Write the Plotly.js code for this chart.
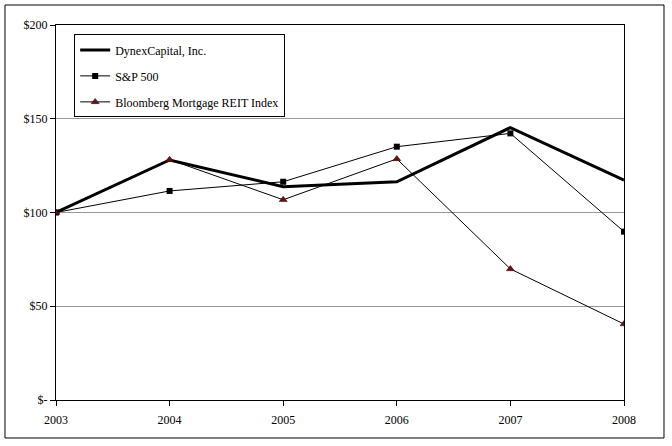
<!DOCTYPE html>
<html>
<head>
<meta charset="utf-8">
<script src="https://cdn.plot.ly/plotly-3.0.1.min.js"></script>
<style>
html,body{margin:0;padding:0;background:#fff;}
#chart{width:672px;height:446px;}
</style>
</head>
<body>
<div id="chart"></div>
<script>
var years = [2003, 2004, 2005, 2006, 2007, 2008];
var dynex = [100, 128, 113.8, 116.4, 145.3, 117.3];
var sp500 = [100, 111.5, 116.4, 135.1, 142.2, 89.8];
var reit  = [100, 128.2, 106.8, 128.6, 69.9, 40.5];
var yTickVals = [0, 50, 100, 150, 200];
var yTickText = ['$-', '$50', '$100', '$150', '$200'];
var seriesNames = ['DynexCapital, Inc.', 'S&P 500', 'Bloomberg Mortgage REIT Index'];

var fam = '"Liberation Serif", "Times New Roman", serif';
var font = {family: fam, size: 12, color: '#000'};

var traces = [
  {x: years, y: dynex, name: seriesNames[0], type: 'scatter', mode: 'lines',
   line: {color: '#000', width: 3}, legendgroup: 'a'},
  {x: years, y: sp500, name: seriesNames[1], type: 'scatter', mode: 'lines+markers',
   line: {color: '#000', width: 1}, marker: {symbol: 'square', size: 6, color: '#000'}, legendgroup: 'b'},
  {x: years, y: reit, name: seriesNames[2], type: 'scatter', mode: 'lines+markers',
   line: {color: '#000', width: 1}, marker: {symbol: 'triangle-up', size: 7, color: '#6b0f0f', line: {color: '#3a0000', width: 0.5}}, legendgroup: 'c'}
];

var layout = {
  width: 672, height: 446,
  margin: {l: 56, r: 48, t: 25, b: 46},
  paper_bgcolor: '#fff', plot_bgcolor: '#fff',
  font: font,
  showlegend: true,
  legend: {
    x: 0.032, y: 0.975, xanchor: 'left', yanchor: 'top',
    bgcolor: '#fff', bordercolor: '#000', borderwidth: 1,
    font: {family: fam, size: 12, color: '#000'},
    traceorder: 'grouped', tracegroupgap: 7, itemwidth: 30
  },
  xaxis: {
    type: 'linear', range: [2003, 2008],
    tickvals: years, ticktext: years.map(String),
    ticks: 'outside', ticklen: 5, tickcolor: '#000', ticklabelstandoff: 4,
    showline: true, linecolor: '#000', linewidth: 1, mirror: true,
    showgrid: false, zeroline: false,
    tickfont: {family: fam, size: 12, color: '#000'}
  },
  yaxis: {
    range: [0, 200],
    tickvals: yTickVals, ticktext: yTickText,
    ticks: 'outside', ticklen: 5, tickcolor: '#000',
    showline: true, linecolor: '#000', linewidth: 1, mirror: true,
    showgrid: true, gridcolor: '#999', gridwidth: 1, zeroline: false,
    tickfont: {family: fam, size: 12, color: '#000'}
  },
  shapes: [
    {type: 'rect', xref: 'paper', yref: 'paper',
     x0: -0.0898, x1: 1.0704, y0: -0.1013, y1: 1.0533,
     line: {color: '#000', width: 1}, fillcolor: 'rgba(0,0,0,0)', layer: 'below'}
  ]
};

Plotly.newPlot('chart', traces, layout, {displayModeBar: false, staticPlot: true});
</script>
</body>
</html>
